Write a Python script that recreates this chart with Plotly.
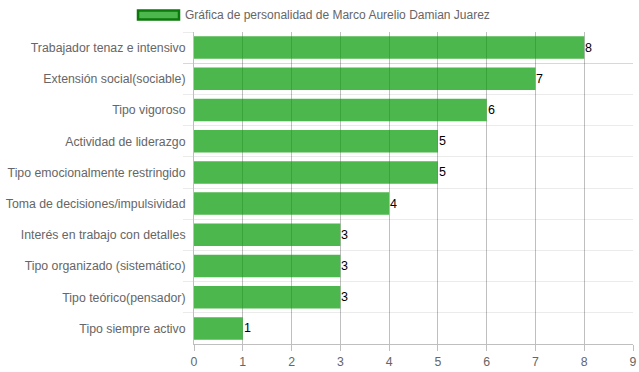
import plotly.graph_objects as go

categories = [
    "Trabajador tenaz e intensivo",
    "Extensión social(sociable)",
    "Tipo vigoroso",
    "Actividad de liderazgo",
    "Tipo emocionalmente restringido",
    "Toma de decisiones/impulsividad",
    "Interés en trabajo con detalles",
    "Tipo organizado (sistemático)",
    "Tipo teórico(pensador)",
    "Tipo siempre activo",
]
values = [8, 7, 6, 5, 5, 4, 3, 3, 3, 1]
series_name = "Gráfica de personalidad de Marco Aurelio Damian Juarez"
x_ticks = list(range(0, 10))

FONT = "Liberation Sans, Arial, Helvetica, sans-serif"
BAR_FILL = "rgba(0,153,0,0.7)"
W, H = 639, 372
ML, MR, MT, MB = 194, 6, 32, 28
PW = W - ML - MR
PH = H - MT - MB

fig = go.Figure()
fig.add_trace(go.Bar(
    y=categories,
    x=values,
    orientation="h",
    name=series_name,
    marker=dict(color=BAR_FILL, line=dict(width=0)),
    width=0.72,
    showlegend=False,
    hoverinfo="x+y",
))

annotations = []
for c, v in zip(categories, values):
    annotations.append(dict(
        x=v, y=c, xref="x", yref="y", text=str(v), showarrow=False,
        xanchor="left", yanchor="middle", xshift=-1,
        font=dict(family=FONT, size=12.5, color="#000000"),
    ))

def px_x(p):
    return (p - ML) / PW

def px_y(p):
    return (H - MB - p) / PH

# legend drawn manually (wide Chart.js-style swatch)
annotations.append(dict(
    x=px_x(183), y=px_y(15.5), xref="paper", yref="paper", text=series_name,
    showarrow=False, xanchor="left", yanchor="middle",
    font=dict(family=FONT, size=12, color="#666666"),
))
shapes = [dict(
    type="rect", xref="paper", yref="paper",
    x0=px_x(138), x1=px_x(179), y0=px_y(19.5), y1=px_y(10.5),
    fillcolor=BAR_FILL, line=dict(color="#0a7a0a", width=2.5),
)]

fig.update_layout(
    width=W, height=H,
    margin=dict(l=ML, r=MR, t=MT, b=MB, pad=0, autoexpand=False),
    paper_bgcolor="white", plot_bgcolor="white",
    font=dict(family=FONT, size=12, color="#666666"),
    annotations=annotations,
    shapes=shapes,
    xaxis=dict(
        range=[0, 9], tickvals=x_ticks, ticktext=[str(t) for t in x_ticks],
        showgrid=True, gridcolor="rgba(0,0,0,0.25)", gridwidth=1,
        zeroline=False,
        showline=True, linecolor="rgba(0,0,0,0.25)", linewidth=1,
        ticks="outside", ticklen=6, tickcolor="rgba(0,0,0,0.25)",
        tickfont=dict(family=FONT, size=12.3, color="#666666"),
        fixedrange=True, automargin=False,
    ),
    yaxis=dict(
        type="category", categoryorder="array", categoryarray=categories,
        autorange="reversed",
        tickson="boundaries",
        showgrid=True, gridcolor="rgba(0,0,0,0.08)", gridwidth=1,
        ticks="outside", ticklen=10, tickcolor="rgba(0,0,0,0.08)",
        showline=True, linecolor="rgba(0,0,0,0.25)", linewidth=1,
        tickfont=dict(family=FONT, size=12.3, color="#666666"),
        ticklabelstandoff=5,
        fixedrange=True, automargin=False,
    ),
)

fig.write_html(
    "out.html",
    config={"displayModeBar": False},
    post_script="document.body.style.margin='0';document.body.style.padding='0';",
)
